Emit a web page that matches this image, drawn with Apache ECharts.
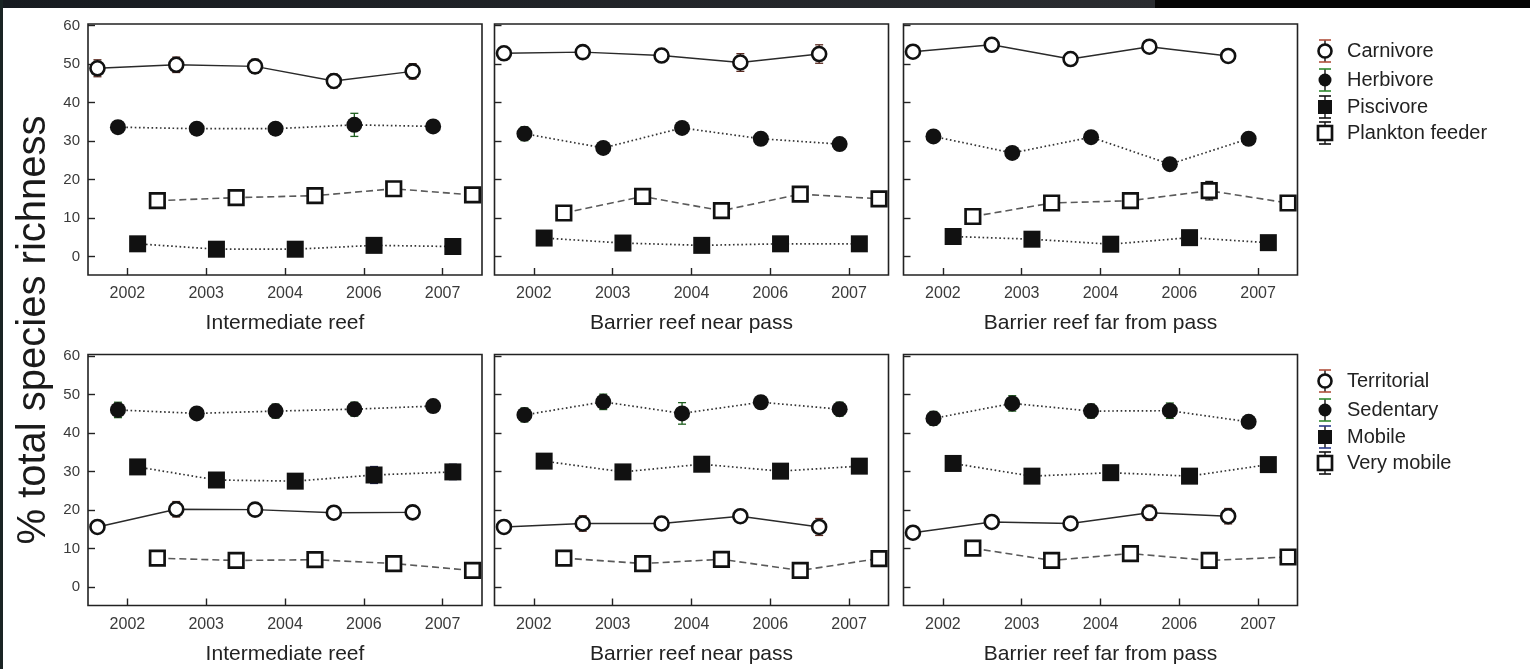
<!DOCTYPE html>
<html>
<head>
<meta charset="utf-8">
<script src="https://cdn.jsdelivr.net/npm/echarts@6/dist/echarts.min.js"></script>
<style>
html,body{margin:0;padding:0;background:#fff;}
#chart{width:1530px;height:669px;}
</style>
</head>
<body>
<div id="chart"></div>
<script>
// Survey years and reef sites
const years = ['2002', '2003', '2004', '2006', '2007'];
const sites = ['Intermediate reef', 'Barrier reef near pass', 'Barrier reef far from pass'];
const yTicks = [0, 10, 20, 30, 40, 50, 60];
const yTitle = '% total species richness';

// Trophic groups (% of species richness), one row per site
const trophicNames = ['Carnivore', 'Herbivore', 'Piscivore', 'Plankton feeder'];
const carnivore = [[48.9, 49.8, 49.4, 45.6, 48.1], [52.8, 53.1, 52.2, 50.4, 52.6], [53.2, 55.0, 51.3, 54.5, 52.1]];
const herbivore = [[33.6, 33.2, 33.2, 34.2, 33.8], [31.9, 28.2, 33.4, 30.6, 29.2], [31.2, 26.9, 31.0, 24.0, 30.6]];
const piscivore = [[3.3, 1.9, 1.9, 2.9, 2.6], [4.8, 3.5, 2.9, 3.3, 3.3], [5.2, 4.5, 3.2, 4.9, 3.6]];
const plankton = [[14.5, 15.3, 15.8, 17.6, 16.0], [11.3, 15.6, 11.9, 16.2, 15.0], [10.4, 13.9, 14.5, 17.1, 13.9]];
const carnivoreErr = [[2.2, 2.0, 1.8, 1.8, 2.0], [1.5, 1.2, 1.5, 2.3, 2.4], [1.5, 1.3, 1.2, 1.5, 1.6]];
const herbivoreErr = [[1.6, 1.2, 1.5, 3.0, 1.2], [1.8, 1.2, 1.4, 1.2, 1.2], [1.5, 1.3, 1.2, 1.4, 1.2]];
const piscivoreErr = [[0.8, 0.6, 0.6, 0.9, 0.7], [0.8, 0.7, 0.6, 0.7, 0.6], [0.9, 0.8, 0.6, 0.9, 0.7]];
const planktonErr = [[1.2, 1.0, 1.0, 1.2, 1.0], [1.0, 1.2, 1.0, 1.2, 1.0], [1.0, 1.0, 1.0, 2.4, 1.0]];

// Mobility groups (% of species richness), one row per site
const mobilityNames = ['Territorial', 'Sedentary', 'Mobile', 'Very mobile'];
const territorial = [[15.6, 20.2, 20.1, 19.3, 19.4], [15.6, 16.5, 16.5, 18.4, 15.6], [14.1, 16.9, 16.5, 19.3, 18.4]];
const sedentary = [[46.0, 45.1, 45.7, 46.2, 47.0], [44.7, 48.1, 45.1, 48.0, 46.2], [43.8, 47.7, 45.7, 45.8, 42.9]];
const mobile = [[31.2, 27.8, 27.5, 29.1, 29.9], [32.7, 29.9, 31.9, 30.1, 31.4], [32.1, 28.8, 29.7, 28.8, 31.8]];
const veryMobile = [[7.5, 6.9, 7.1, 6.1, 4.3], [7.5, 6.1, 7.2, 4.3, 7.4], [10.1, 6.9, 8.7, 6.9, 7.8]];
const territorialErr = [[1.5, 2.0, 1.5, 1.5, 1.5], [1.5, 2.0, 1.8, 1.5, 2.2], [1.2, 1.5, 1.5, 2.0, 2.0]];
const sedentaryErr = [[2.0, 1.5, 1.8, 1.8, 1.2], [1.8, 2.0, 2.8, 1.5, 1.8], [1.8, 2.0, 1.8, 2.0, 1.5]];
const mobileErr = [[1.2, 1.2, 1.2, 2.2, 2.0], [1.2, 1.2, 1.2, 1.2, 1.2], [1.2, 1.2, 1.2, 1.2, 1.2]];
const veryMobileErr = [[1.2, 1.0, 1.0, 1.0, 1.0], [1.0, 1.0, 1.0, 1.0, 1.0], [1.2, 1.0, 1.0, 1.0, 1.0]];

const FONT = "'Liberation Sans', Arial, sans-serif";
const colLeft = [88, 494.5, 903.5];
const rowTop = [24, 354.5];
const panelW = 394, panelH = 251;
// horizontal nudge of each group inside a year slot so markers do not overlap
const slotShift = [-0.38, -0.12, 0.13, 0.38];

const rows = [
  { names: trophicNames, values: [carnivore, herbivore, piscivore, plankton],
    errors: [carnivoreErr, herbivoreErr, piscivoreErr, planktonErr],
    errColors: ['#5a2a20', '#1f5f1f', '#111', '#111'],
    keyColors: ['#b0503c', '#2f8a2f', '#111', '#111'],
    keyTop: 51 },
  { names: mobilityNames, values: [territorial, sedentary, mobile, veryMobile],
    errors: [territorialErr, sedentaryErr, mobileErr, veryMobileErr],
    errColors: ['#5a2a20', '#1f5f1f', '#1a1f4a', '#111'],
    keyColors: ['#b0503c', '#2f8a2f', '#2a3a8a', '#111'],
    keyTop: 381 }
];

const looks = [
  { symbol: 'circle', size: 14, item: { color: '#fff', borderColor: '#111', borderWidth: 2.6 },
    line: { type: 'solid', width: 1.4, color: '#2a2a2a' } },
  { symbol: 'circle', size: 16, item: { color: '#111' },
    line: { type: [1.6, 2.6], width: 1.7, color: '#333' } },
  { symbol: 'rect', size: 17, item: { color: '#111' },
    line: { type: [1.6, 2.6], width: 1.7, color: '#333' } },
  { symbol: 'rect', size: 14.5, item: { color: '#fff', borderColor: '#111', borderWidth: 2.7 },
    line: { type: [7, 4], width: 1.6, color: '#5a5a5a' } }
];

function renderErr(params, api) {
  const x = api.value(0), y = api.value(1), e = api.value(2);
  const top = api.coord([x, y + e]), bot = api.coord([x, y - e]);
  const cw = 4;
  const st = { stroke: api.visual('color'), lineWidth: 1.3 };
  return { type: 'group', children: [
    { type: 'line', shape: { x1: top[0], y1: top[1], x2: bot[0], y2: bot[1] }, style: st },
    { type: 'line', shape: { x1: top[0] - cw, y1: top[1], x2: top[0] + cw, y2: top[1] }, style: st },
    { type: 'line', shape: { x1: bot[0] - cw, y1: bot[1], x2: bot[0] + cw, y2: bot[1] }, style: st }
  ] };
}

const grid = [], xAxis = [], yAxis = [], series = [];
rows.forEach((row, r) => {
  sites.forEach((site, c) => {
    const gi = r * 3 + c;
    grid.push({ left: colLeft[c], top: rowTop[r], width: panelW, height: panelH,
      show: true, borderColor: '#222', borderWidth: 1.6, backgroundColor: '#fff' });
    xAxis.push({ type: 'category', gridIndex: gi, data: years, boundaryGap: true,
      position: 'bottom',
      axisLine: { show: false, onZero: false },
      axisTick: { show: true, inside: true, length: 7, alignWithLabel: true, lineStyle: { color: '#222', width: 1.4 } },
      axisLabel: { fontFamily: FONT, fontSize: 16, color: '#3a3a3a', margin: 11 },
      name: site, nameLocation: 'middle', nameGap: 38,
      nameTextStyle: { fontFamily: FONT, fontSize: 21, color: '#222' },
      splitLine: { show: false } });
    xAxis.push({ type: 'value', gridIndex: gi, min: -0.5, max: 4.5, show: false,
      axisLine: { onZero: false } });
    yAxis.push({ type: 'value', gridIndex: gi, min: -4.8, max: 60.4, position: 'left',
      axisLine: { show: false, onZero: false },
      axisTick: { show: true, inside: true, length: 7, customValues: yTicks, lineStyle: { color: '#222', width: 1.4 } },
      axisLabel: { show: c === 0, customValues: yTicks, fontFamily: FONT, fontSize: 15, color: '#3a3a3a', margin: 8 },
      splitLine: { show: false } });
    row.names.forEach((name, k) => {
      const vals = row.values[k][c];
      const errs = row.errors[k][c];
      series.push({ type: 'custom', name: name + ' SE', xAxisIndex: gi * 2 + 1, yAxisIndex: gi,
        z: 1, silent: true, renderItem: renderErr, encode: { x: 0, y: 1 },
        itemStyle: { color: row.errColors[k] },
        data: vals.map((v, i) => [i + slotShift[k], v, errs[i]]) });
      const lk = looks[k];
      series.push({ type: 'line', name: name, xAxisIndex: gi * 2 + 1, yAxisIndex: gi,
        z: 3, silent: true, symbol: lk.symbol, symbolSize: lk.size, showAllSymbol: true,
        itemStyle: lk.item, lineStyle: lk.line,
        data: vals.map((v, i) => [i + slotShift[k], v]) });
    });
  });
});

// Graphic pieces: page frame band, shared y title and the two keys
const graphic = [
  { type: 'rect', left: 0, top: 0, shape: { width: 1155, height: 8 },
    style: { fill: new echarts.graphic.LinearGradient(0, 0, 1, 0, [{ offset: 0, color: '#171b20' }, { offset: 1, color: '#2a2c30' }]) } },
  { type: 'rect', left: 1155, top: 0, shape: { width: 375, height: 8 }, style: { fill: '#050505' } },
  { type: 'rect', left: 0, top: 0, shape: { width: 3, height: 669 }, style: { fill: '#1a2424' } },
  { type: 'text', x: 34, y: 330, rotation: Math.PI / 2,
    style: { text: yTitle, font: '40px ' + FONT, fill: '#1a1a1a', align: 'center', verticalAlign: 'middle' } }
];

const keyGap = [0, 29, 56, 82];
rows.forEach((row) => {
  row.names.forEach((name, k) => {
    const cy = row.keyTop + keyGap[k];
    const cx = 1325;
    const capStyle = { stroke: row.keyColors[k], lineWidth: 1.6 };
    const children = [
      { type: 'line', shape: { x1: 0, y1: -11, x2: 0, y2: 11 }, style: { stroke: '#111', lineWidth: 1.4 } },
      { type: 'line', shape: { x1: -6, y1: -11, x2: 6, y2: -11 }, style: capStyle },
      { type: 'line', shape: { x1: -6, y1: 11, x2: 6, y2: 11 }, style: capStyle }
    ];
    const lk = looks[k];
    if (lk.symbol === 'circle') {
      children.push({ type: 'circle', shape: { cx: 0, cy: 0, r: 6.5 },
        style: { fill: lk.item.color, stroke: '#111', lineWidth: lk.item.borderWidth || 0 } });
    } else {
      const s = 14;
      children.push({ type: 'rect', shape: { x: -s / 2, y: -s / 2, width: s, height: s },
        style: { fill: lk.item.color, stroke: '#111', lineWidth: lk.item.borderWidth || 0 } });
    }
    graphic.push({ type: 'group', x: cx, y: cy, children: children });
    graphic.push({ type: 'text', x: 1347, y: cy,
      style: { text: name, font: '20px ' + FONT, fill: '#222', align: 'left', verticalAlign: 'middle' } });
  });
});

const chart = echarts.init(document.getElementById('chart'), null, { renderer: 'canvas' });
chart.setOption({
  animation: false,
  backgroundColor: '#fff',
  grid: grid,
  xAxis: xAxis,
  yAxis: yAxis,
  series: series,
  graphic: graphic
});
</script>
</body>
</html>
